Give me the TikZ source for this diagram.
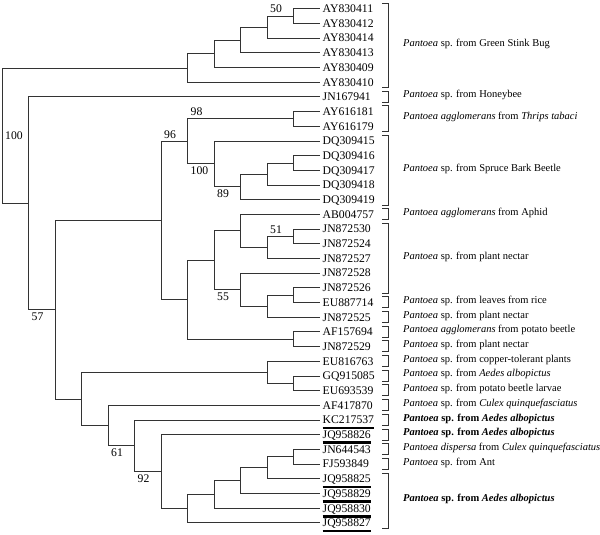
\documentclass[tikz,border=0pt]{standalone}
\usepackage{fontspec}
\setmainfont{Liberation Serif}
\usetikzlibrary{positioning}
\definecolor{TreeGray}{HTML}{333333}
\newcommand{\Pan}{\textit{Pantoea}}
\newcommand{\Aed}{\textit{Aedes albopictus}}
\newcommand{\Cul}{\textit{Culex quinquefasciatus}}

\begin{document}
\begin{tikzpicture}[x=26.5pt,y=-14.69pt,
  branch/.style={TreeGray,line width=.8pt},
  leaf/.style={anchor=west,inner xsep=2.5pt,inner ysep=1pt,text height=7.7pt,text depth=0pt,
    font=\fontsize{11.7}{12}\selectfont},
  boot/.style={inner sep=3pt,text height=7.7pt,text depth=0pt,font=\fontsize{11.7}{12}\selectfont},
  group/.style={anchor=west,inner sep=0pt,text height=7pt,text depth=2pt,font=\fontsize{10.5}{12}\selectfont},
  brace/.style={TreeGray,line width=.6pt}]
  \useasboundingbox (-0.0755,-0.5922) rectangle (22.566,35.827);

  % taxa
  \foreach \acc [count=\i from 0] in {AY830411,AY830412,AY830414,AY830413,AY830409,AY830410,
      JN167941,AY616181,AY616179,DQ309415,DQ309416,DQ309417,DQ309418,DQ309419,AB004757,
      JN872530,JN872524,JN872527,JN872528,JN872526,EU887714,JN872525,AF157694,JN872529,
      EU816763,GQ915085,EU693539,AF417870,KC217537,JQ958826,JN644543,FJ593849,
      JQ958825,JQ958829,JQ958830,JQ958827}
    \node[leaf] (l\i) at (12,\i) {\acc};

  % internal nodes (level, row)
  \coordinate (root) at (0,8.639);
  \coordinate (gsb7) at (7,4.0313);
  \coordinate (gsb8) at (8,3.0625);
  \coordinate (gsb9) at (9,2.125);
  \coordinate (gsb10) at (10,1.25);
  \coordinate (gsb11) at (11,0.5);
  \coordinate (n1) at (1,13.2466);
  \coordinate (n2) at (2,20.4932);
  \coordinate (n3) at (6,14.4219);
  \coordinate (thr7) at (7,9.0313);
  \coordinate (thr11) at (11,7.5);
  \coordinate (spr8) at (8,10.5625);
  \coordinate (spr9) at (9,12.125);
  \coordinate (spr10) at (10,11.25);
  \coordinate (spr11) at (11,10.5);
  \coordinate (nec7) at (7,19.8125);
  \coordinate (nec8) at (8,17.125);
  \coordinate (nec9a) at (9,15.125);
  \coordinate (nec10a) at (10,16.25);
  \coordinate (nec11a) at (11,15.5);
  \coordinate (nec9b) at (9,19.125);
  \coordinate (nec10b) at (10,20.25);
  \coordinate (nec11b) at (11,19.5);
  \coordinate (pot11) at (11,22.5);
  \coordinate (n20) at (3,26.5645);
  \coordinate (cop10) at (10,24.75);
  \coordinate (cop11) at (11,25.5);
  \coordinate (aed4) at (4,28.3789);
  \coordinate (aed5) at (5,29.7578);
  \coordinate (aed6) at (6,31.5156);
  \coordinate (aed7) at (7,34.0313);
  \coordinate (aed8) at (8,33.0625);
  \coordinate (aed9) at (9,32.125);
  \coordinate (aed10) at (10,31.25);
  \coordinate (aed11) at (11,30.5);

  % branches
  \foreach \p/\c in {root/gsb7,root/n1,gsb7/gsb8,gsb7/l5,gsb8/gsb9,gsb8/l4,gsb9/gsb10,gsb9/l3,
      gsb10/gsb11,gsb10/l2,gsb11/l0,gsb11/l1,n1/l6,n1/n2,n2/n3,n2/n20,n3/thr7,n3/nec7,
      thr7/thr11,thr7/spr8,thr11/l7,thr11/l8,spr8/l9,spr8/spr9,spr9/spr10,spr9/l13,
      spr10/spr11,spr10/l12,spr11/l10,spr11/l11,nec7/nec8,nec7/pot11,nec8/nec9a,nec8/nec9b,
      nec9a/l14,nec9a/nec10a,nec10a/nec11a,nec10a/l17,nec11a/l15,nec11a/l16,
      nec9b/l18,nec9b/nec10b,nec10b/nec11b,nec10b/l21,nec11b/l19,nec11b/l20,
      pot11/l22,pot11/l23,n20/cop10,n20/aed4,cop10/l24,cop10/cop11,cop11/l25,cop11/l26,
      aed4/l27,aed4/aed5,aed5/l28,aed5/aed6,aed6/l29,aed6/aed7,aed7/aed8,aed7/l35,
      aed8/aed9,aed8/l34,aed9/aed10,aed9/l33,aed10/aed11,aed10/l32,aed11/l30,aed11/l31}
    \draw[branch] (\p) |- (\c);

  % bootstrap values
  \node[boot,right] (bRoot) at (root) {100};
  \node[boot,above right] (b50) at (gsb10 |- gsb11) {50};
  \node[boot,above right] (b98) at (thr7 |- thr11) {98};
  \node[boot,above right] (b96) at (n3 |- thr7) {96};
  \node[boot,below right] (b100) at (thr7 |- spr8) {100};
  \node[boot,below right] (b89) at (spr8 |- spr9) {89};
  \node[boot,above right] (b51) at (nec10a |- nec11a) {51};
  \node[boot,below right] (b55) at (nec8 |- nec9b) {55};
  \node[boot,below right] (b57) at (n1 |- n2) {57};
  \node[boot,below right] (b61) at (aed4 |- aed5) {61};
  \node[boot,below right] (b92) at (aed5 |- aed6) {92};

  % new sequences
  \foreach \i in {28,29,32,33,34,35}
    \draw[line width=2.6pt] ([xshift=2.5pt,yshift=-4.2pt]l\i.base west) -- ([xshift=-2.5pt,yshift=-4.2pt]l\i.base east);

  % sources
  \foreach \a/\b/\txt [count=\k] in {0/5/{\Pan\ sp. from Green Stink Bug},6/6/{\Pan\ sp. from Honeybee},
      7/8/{\Pan\ \textit{agglomerans} from \textit{Thrips tabaci}},9/13/{\Pan\ sp. from Spruce Bark Beetle},
      14/14/{\Pan\ \textit{agglomerans} from Aphid},15/19/{\Pan\ sp. from plant nectar},
      20/20/{\Pan\ sp. from leaves from rice},21/21/{\Pan\ sp. from plant nectar},
      22/22/{\Pan\ \textit{agglomerans} from potato beetle},23/23/{\Pan\ sp. from plant nectar},
      24/24/{\Pan\ sp. from copper-tolerant plants},25/25/{\Pan\ sp. from \Aed},
      26/26/{\Pan\ sp. from potato beetle larvae},27/27/{\Pan\ sp. from \Cul},
      28/28/{\textbf{\Pan\ sp. from \Aed}},29/29/{\textbf{\Pan\ sp. from \Aed}},
      30/30/{\Pan\ \textit{dispersa} from \Cul},31/31/{\Pan\ sp. from Ant},
      32/35/{\textbf{\Pan\ sp. from \Aed}}} {
    \draw[brace] (14.34,\a-0.4) -- (14.57,\a-0.4) -- (14.57,\b+0.35) -- (14.34,\b+0.35);
    \node[group] (src\k) at (15.13,{(\a+\b)/2-0.1}) {\txt};
  }
\end{tikzpicture}
\end{document}
